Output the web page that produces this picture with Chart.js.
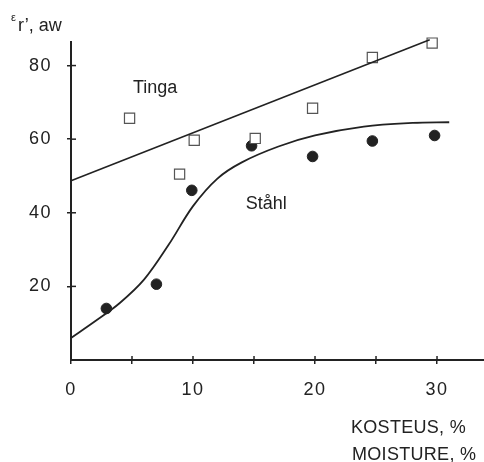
<!DOCTYPE html>
<html>
<head>
<meta charset="utf-8">
<script src="https://cdn.jsdelivr.net/npm/chart.js@4/dist/chart.umd.min.js"></script>
<style>
html,body{margin:0;padding:0;background:#fff;}
#wrap{width:484px;height:462px;position:relative;}
</style>
</head>
<body>
<div id="wrap"><canvas id="c" width="484" height="462"></canvas></div>
<script>
// ---- data ----
const tingaX = [4.8, 10.1, 8.9, 15.1, 19.8, 24.7, 29.6];
const tingaY = [65.7, 59.7, 50.5, 60.2, 68.4, 82.2, 86.1];
const stahlX = [2.9, 7.0, 9.9, 14.8, 19.8, 24.7, 29.8];
const stahlY = [14, 20.6, 46.1, 58.2, 55.3, 59.5, 61];
const tingaFitX = [0, 29.4];
const tingaFitY = [48.7, 87.0];
const stahlFitX = [0, 2, 4, 6, 8, 10, 12, 14, 17, 20, 24, 28, 31];
const stahlFitY = [6, 10.6, 15.5, 21.9, 31.3, 41.8, 49.3, 53.7, 58.0, 61.0, 63.4, 64.4, 64.6];
const xTickLabels = [0, 10, 20, 30];
const yTickLabels = [20, 40, 60, 80];
const yTitleSup = 'ε';
const yTitleMain = 'r’, aw';
const xTitleLines = ['KOSTEUS, %', 'MOISTURE, %'];
const seriesLabels = [{text: 'Tinga', x: 6.9, y: 74}, {text: 'Ståhl', x: 16.0, y: 42.3}];

const pts = (xs, ys) => xs.map((x, i) => ({x, y: ys[i]}));
const INK = '#222';
const FONT = '"Liberation Sans", Arial, Helvetica, sans-serif';

const decor = {
  id: 'decor',
  beforeDraw(chart) { chart.ctx.letterSpacing = '1.5px'; },
  afterDraw(chart) {
    const ctx = chart.ctx, xs = chart.scales.x, ys = chart.scales.y;
    ctx.letterSpacing = '0px';
    ctx.save();
    ctx.strokeStyle = INK; ctx.lineWidth = 1.5;
    // inner halves of tick marks (ticks cross the axis)
    xs.ticks.forEach(t => {
      if (t.value % 5 !== 0 || t.value === 0) return;
      const px = xs.getPixelForValue(t.value);
      ctx.beginPath(); ctx.moveTo(px, ys.bottom); ctx.lineTo(px, ys.bottom - 4); ctx.stroke();
    });
    ys.ticks.forEach(t => {
      if (!yTickLabels.includes(t.value)) return;
      const py = ys.getPixelForValue(t.value);
      ctx.beginPath(); ctx.moveTo(xs.left, py); ctx.lineTo(xs.left + 5, py); ctx.stroke();
    });
    ctx.fillStyle = INK;
    ctx.textBaseline = 'middle'; ctx.textAlign = 'center';
    ctx.font = '18px ' + FONT;
    seriesLabels.forEach(l => ctx.fillText(l.text, xs.getPixelForValue(l.x), ys.getPixelForValue(l.y)));
    ctx.textBaseline = 'alphabetic'; ctx.textAlign = 'left';
    ctx.font = '11px ' + FONT;
    ctx.fillText(yTitleSup, 11, 21);
    ctx.font = '18px ' + FONT;
    ctx.fillText(yTitleMain, 18, 31);
    ctx.letterSpacing = '0.3px';
    ctx.fillText(xTitleLines[0], 351, 433);
    ctx.fillText(xTitleLines[1], 352, 460);
    ctx.letterSpacing = '0px';
    ctx.restore();
  }
};

new Chart(document.getElementById('c'), {
  type: 'scatter',
  data: {
    datasets: [
      {label: 'Tinga fit', type: 'line', data: pts(tingaFitX, tingaFitY), borderColor: INK, borderWidth: 1.6, pointRadius: 0, fill: false, clip: false},
      {label: 'Ståhl fit', type: 'line', data: pts(stahlFitX, stahlFitY), borderColor: INK, borderWidth: 1.8, pointRadius: 0, fill: false, tension: 0.35, clip: false},
      {label: 'Tinga', data: pts(tingaX, tingaY), pointStyle: 'rect', pointRadius: 7.2, backgroundColor: '#fff', borderColor: '#555', borderWidth: 1.2, clip: false},
      {label: 'Ståhl', data: pts(stahlX, stahlY), pointStyle: 'circle', pointRadius: 5.3, backgroundColor: '#222', borderColor: '#222', borderWidth: 1, clip: false}
    ]
  },
  options: {
    responsive: false,
    animation: false,
    layout: {autoPadding: false, padding: {top: 42, right: 0, left: 0, bottom: 0}},
    plugins: {legend: {display: false}, tooltip: {enabled: false}},
    scales: {
      x: {
        type: 'linear', min: 0, max: 33.85,
        afterFit: s => { s.height = 102; s.paddingLeft = 0; s.paddingRight = 0; },
        ticks: {
          stepSize: 5, includeBounds: false, color: INK, padding: 15, font: {family: FONT, size: 18}, maxRotation: 0, autoSkip: false,
          callback: v => (v % 5 === 0 ? (xTickLabels.includes(v) ? String(v) : '') : null)
        },
        grid: {drawOnChartArea: false, drawTicks: true, tickLength: 4, color: INK, lineWidth: 1.5},
        border: {display: true, color: INK, width: 2}
      },
      y: {
        type: 'linear', min: 0, max: 86.4,
        afterFit: s => { s.width = 71; s.paddingTop = 0; s.paddingBottom = 0; },
        ticks: {
          stepSize: 20, includeBounds: false, color: INK, padding: 15, font: {family: FONT, size: 18}, autoSkip: false,
          callback: v => (yTickLabels.includes(v) ? String(v) : null)
        },
        grid: {drawOnChartArea: false, drawTicks: true, tickLength: 4, color: INK, lineWidth: 1.5},
        border: {display: true, color: INK, width: 2}
      }
    }
  },
  plugins: [decor]
});
</script>
</body>
</html>
